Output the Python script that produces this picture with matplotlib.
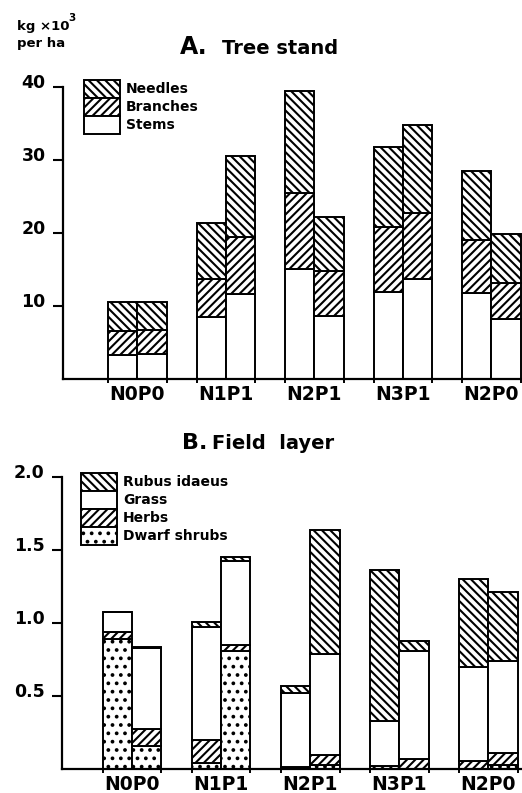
import matplotlib.pyplot as plt
import numpy as np
from matplotlib.patches import Rectangle
from matplotlib.transforms import ScaledTranslation

plt.rcParams["font.family"] = "DejaVu Sans"
plt.rcParams["hatch.linewidth"] = 1.5
plt.rcParams["hatch.color"] = "black"

treatments = ["N0P0", "N1P1", "N2P1", "N3P1", "N2P0"]

# A. tree stand, kg x 10^3 per ha (a = left bar, b = right bar of each pair)
stems_a = [3.3, 8.5, 15.1, 11.9, 11.8]
stems_b = [3.4, 11.6, 8.6, 13.7, 8.2]
branches_a = [3.3, 5.2, 10.4, 8.9, 7.3]
branches_b = [3.3, 7.9, 6.2, 9.1, 5.0]
needles_a = [3.9, 7.7, 14.0, 11.0, 9.4]
needles_b = [3.8, 11.0, 7.4, 12.0, 6.7]

# B. field layer
dwarf_a = [0.89, 0.04, 0.0, 0.0, 0.0]
dwarf_b = [0.155, 0.81, 0.03, 0.0, 0.025]
herbs_a = [0.05, 0.16, 0.015, 0.02, 0.055]
herbs_b = [0.12, 0.04, 0.066, 0.068, 0.082]
grass_a = [0.133, 0.77, 0.505, 0.31, 0.645]
grass_b = [0.551, 0.574, 0.694, 0.738, 0.633]
rubus_a = [0.0, 0.034, 0.05, 1.035, 0.60]
rubus_b = [0.01, 0.031, 0.85, 0.071, 0.47]

W, H = 522, 793
fig = plt.figure(figsize=(W / 100, H / 100), dpi=100)
fig.patch.set_facecolor("white")

LW = 1.4
BAR_W = 0.33
NEEDLE = "\\\\\\\\"
BRANCH = "////"
DOTS = ".."


def px_axes(left, top, right, bottom):
    return fig.add_axes([left / W, 1 - bottom / H, (right - left) / W, (bottom - top) / H])


def stacked(ax, x, layers, hatches):
    bottom = np.zeros(len(x))
    for vals, h in zip(layers, hatches):
        vals = np.asarray(vals)
        ax.bar(x, vals, BAR_W, bottom=bottom, color="white", edgecolor="black",
               hatch=h, linewidth=LW)
        bottom += vals


def style(ax, x, yticks, ylabels, ymax, xmax):
    ax.set_xlim(0, xmax)
    ax.set_ylim(0, ymax)
    for s in ("top", "right"):
        ax.spines[s].set_visible(False)
    for s in ("left", "bottom"):
        ax.spines[s].set_linewidth(1.6)
    ax.set_yticks(yticks, ylabels, fontsize=12.5, fontweight="bold")
    ax.tick_params(axis="y", direction="out", length=7.5, width=1.5, pad=5)
    for lab in ax.get_yticklabels():
        lab.set_transform(lab.get_transform() + ScaledTranslation(0, 4 / 72, fig.dpi_scale_trans))
    ax.set_xticks(x, treatments, fontsize=13.5, fontweight="bold")
    ax.tick_params(axis="x", length=0, pad=4)
    edges = np.concatenate([x - BAR_W, x, x + BAR_W])
    ax.set_xticks(edges, minor=True)
    ax.tick_params(axis="x", which="minor", direction="out", length=3, width=LW)


def key(left, top, entries, row=18, box=36):
    for i, (label, hatch) in enumerate(entries):
        y = top + i * row
        fig.add_artist(Rectangle((left / W, 1 - (y + row) / H), box / W, row / H,
                                 transform=fig.transFigure, facecolor="white",
                                 edgecolor="black", hatch=hatch, linewidth=LW))
        fig.text((left + box + 6) / W, 1 - (y + row / 2) / H, label, va="center",
                 ha="left", fontsize=10, fontweight="bold")


# --- A. Tree stand ---
ax1 = px_axes(63, 87, 522, 379)
x1 = 0.84 + np.arange(len(treatments))
stacked(ax1, x1 - BAR_W / 2, [stems_a, branches_a, needles_a], ["", BRANCH, NEEDLE])
stacked(ax1, x1 + BAR_W / 2, [stems_b, branches_b, needles_b], ["", BRANCH, NEEDLE])
style(ax1, x1, [10, 20, 30, 40], ["10", "20", "30", "40"], 40, 459 / 88.5)
key(84, 80, [("Needles", NEEDLE), ("Branches", BRANCH), ("Stems", "")])

fig.text(180 / W, 1 - 54 / H, "A.", fontsize=17, fontweight="bold", va="baseline")
fig.text(222 / W, 1 - 54 / H, "Tree stand", fontsize=14, fontweight="bold", va="baseline")
fig.text(17 / W, 1 - 30 / H, "kg ×10", fontsize=9.5, fontweight="bold", va="baseline")
fig.text(68 / W, 1 - 21 / H, "3", fontsize=7.5, fontweight="bold", va="baseline")
fig.text(17 / W, 1 - 47 / H, "per ha", fontsize=9.5, fontweight="bold", va="baseline")

# --- B. Field layer ---
ax2 = px_axes(62, 477, 522, 769)
x2 = 0.785 + np.arange(len(treatments))
field_hatch = [DOTS, BRANCH, "", NEEDLE]
stacked(ax2, x2 - BAR_W / 2, [dwarf_a, herbs_a, grass_a, rubus_a], field_hatch)
stacked(ax2, x2 + BAR_W / 2, [dwarf_b, herbs_b, grass_b, rubus_b], field_hatch)
style(ax2, x2, [0.5, 1.0, 1.5, 2.0], ["0.5", "1.0", "1.5", "2.0"], 2.0, 460 / 89.1)
key(81, 473, [("Rubus idaeus", NEEDLE), ("Grass", ""), ("Herbs", BRANCH),
              ("Dwarf shrubs", DOTS)])

fig.text(182 / W, 1 - 449 / H, "B.", fontsize=16, fontweight="bold", va="baseline")
fig.text(212 / W, 1 - 449 / H, "Field  layer", fontsize=14, fontweight="bold", va="baseline")

fig.savefig("out.png", dpi=100, facecolor="white")
